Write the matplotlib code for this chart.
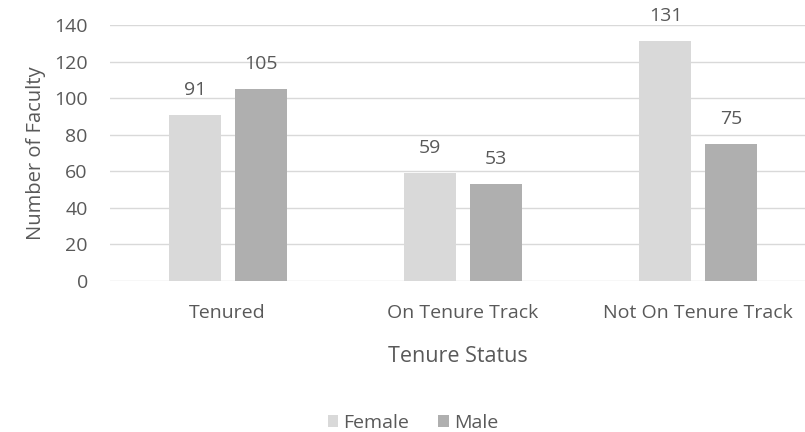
import matplotlib.pyplot as plt
import numpy as np

categories = ["Tenured", "On Tenure Track", "Not On Tenure Track"]
female = [91, 59, 131]
male = [105, 53, 75]

plt.rcParams['font.family'] = ['Open Sans', 'DejaVu Sans']
txt = "#595959"

fig = plt.figure(figsize=(8.05, 4.32), dpi=100)
ax = fig.add_axes([110 / 805, 1 - 281 / 432, 1 - 110 / 805, (281 - 25) / 432])

x = np.arange(len(categories))
w = 0.221
off = 0.14
b1 = ax.bar(x - off, female, w, color="#d9d9d9", label="Female", zorder=2)
b2 = ax.bar(x + off, male, w, color="#afafaf", label="Male", zorder=2)
for bars, vals in [(b1, female), (b2, male)]:
    for r, v in zip(bars, vals):
        ax.annotate(str(v), (r.get_x() + r.get_width() / 2, v), xytext=(0, 11.5),
                    textcoords="offset points", ha="center", va="bottom",
                    fontsize=14, color=txt, annotation_clip=False)

ax.set_ylim(0, 140)
ax.set_yticks(range(0, 141, 20))
ax.set_xlim(-0.5, 2.5 - 11 / 235)
ax.set_xticks(x)
ax.set_xticklabels(categories)
ax.grid(axis="y", color="#d9d9d9", linewidth=1, zorder=0)
for s in ax.spines.values():
    s.set_visible(False)
ax.tick_params(axis="both", length=0, labelsize=14, colors=txt)
ax.tick_params(axis="y", pad=16)
ax.tick_params(axis="x", pad=16.5)
ax.set_xlabel("Tenure Status", fontsize=15.5, color=txt, labelpad=17)
ax.set_ylabel("Number of Faculty", fontsize=14.5, color=txt, labelpad=6)

fig.legend(loc="center", bbox_to_anchor=(0.513, 1 - 423 / 432), ncol=2, frameon=False,
           fontsize=14, labelcolor=txt, handlelength=0.55, handleheight=0.55,
           handletextpad=0.25, columnspacing=1.5)

fig.savefig("out.png", dpi=100)
